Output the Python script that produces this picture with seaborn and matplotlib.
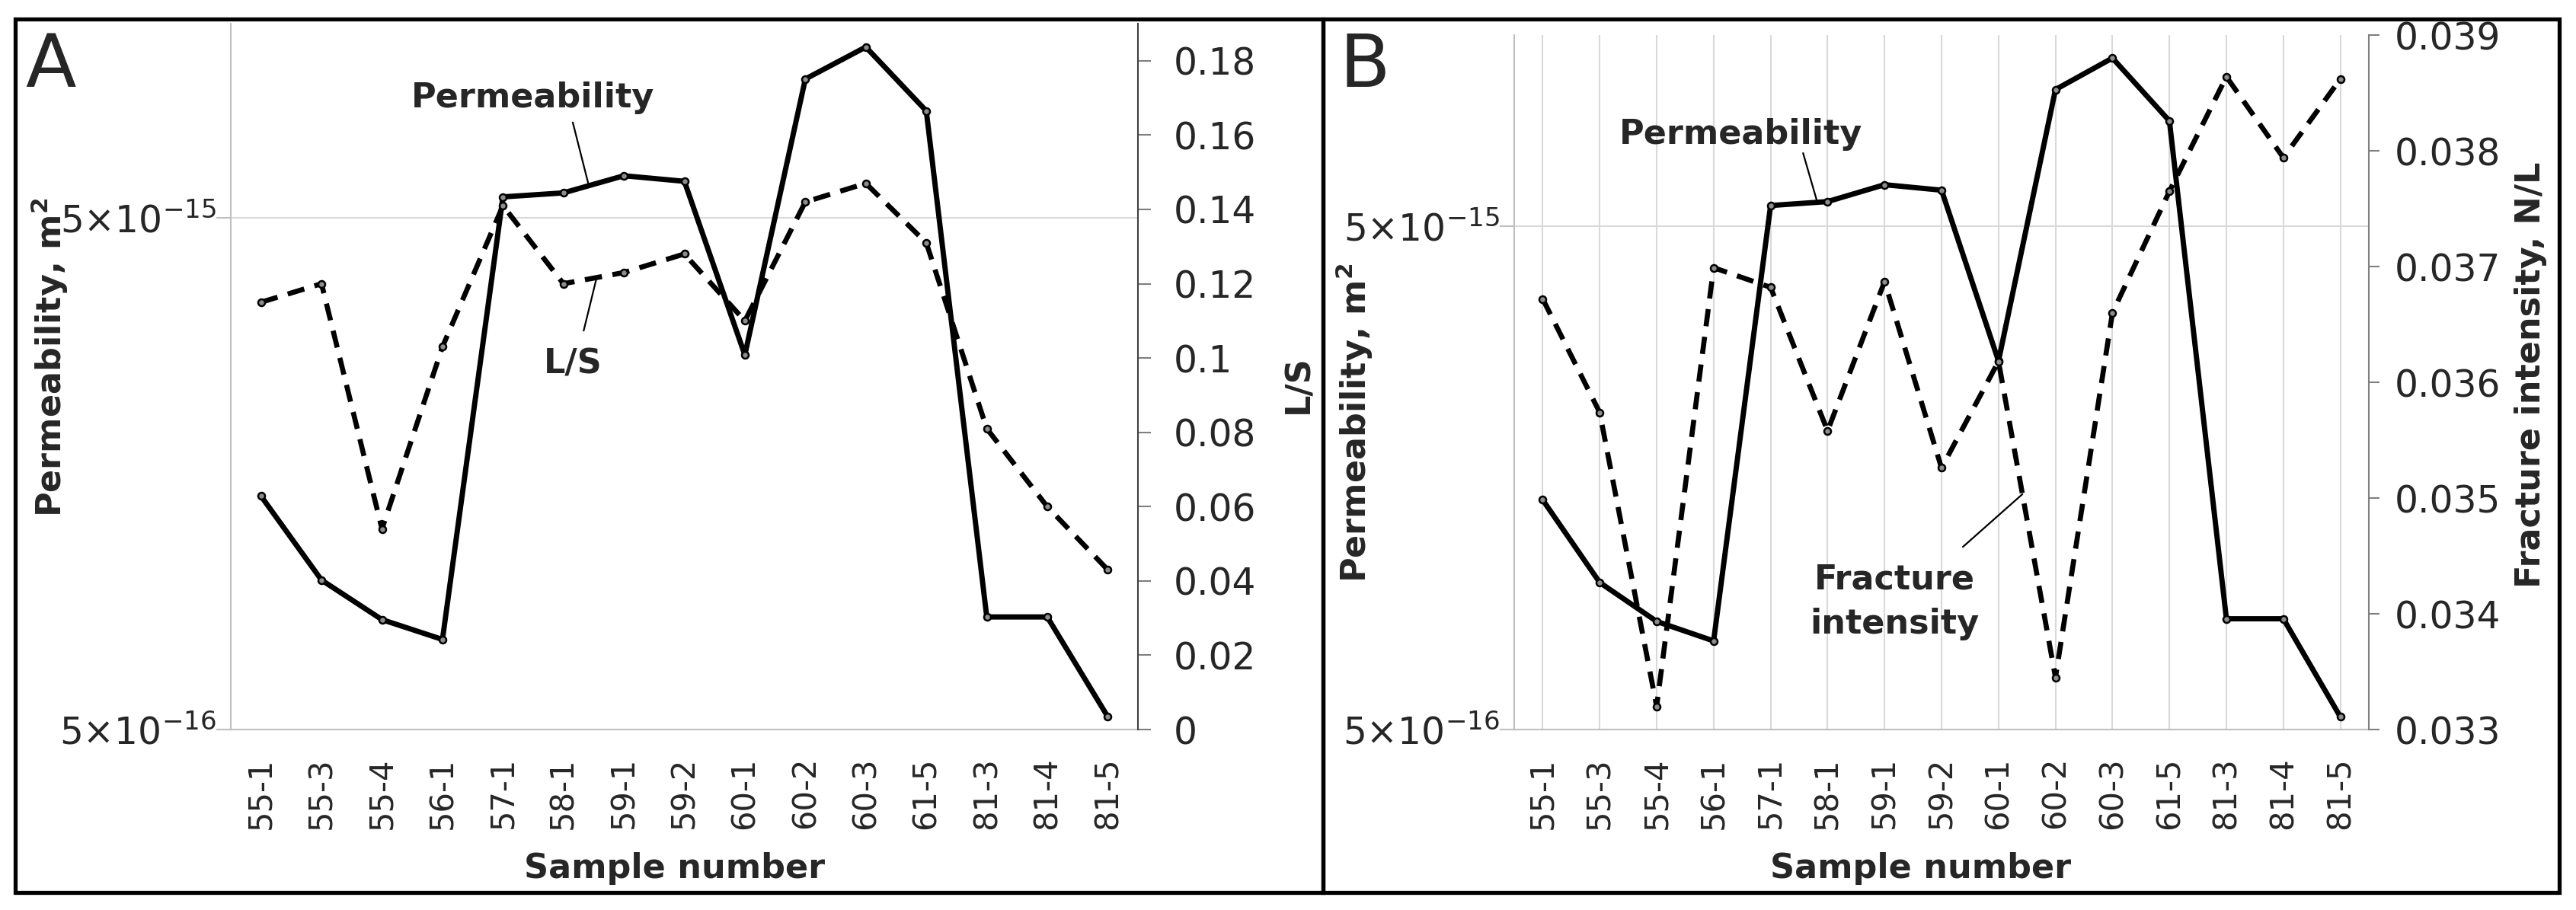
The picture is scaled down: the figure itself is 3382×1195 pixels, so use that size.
import numpy as np
import pandas as pd
import matplotlib
matplotlib.use("Agg")
import matplotlib.pyplot as plt
import seaborn as sns
from matplotlib.patches import Rectangle
from matplotlib.ticker import NullLocator, FuncFormatter

# data
samples = ['55-1', '55-3', '55-4', '56-1', '57-1', '58-1', '59-1', '59-2',
           '60-1', '60-2', '60-3', '61-5', '81-3', '81-4', '81-5']
permeability = [1.43e-15, 9.8e-16, 8.2e-16, 7.5e-16, 5.5e-15, 5.6e-15, 6.05e-15, 5.9e-15,
                2.7e-15, 9.35e-15, 1.08e-14, 8.1e-15, 8.3e-16, 8.3e-16, 5.3e-16]
ls_ratio = [0.115, 0.120, 0.054, 0.103, 0.141, 0.120, 0.123, 0.128,
            0.110, 0.142, 0.147, 0.131, 0.081, 0.060, 0.043]
frac_int = [0.03672, 0.03574, 0.0332, 0.03699, 0.03682, 0.03558, 0.03687, 0.03526,
            0.03618, 0.03345, 0.0366, 0.03765, 0.03864, 0.03794, 0.03862]

perm_ticks = [5e-16, 5e-15]
perm_ticklabels = ['5×10$^{-16}$', '5×10$^{-15}$']
ls_ticks = np.arange(0, 0.181, 0.02)
fi_ticks = [0.033, 0.034, 0.035, 0.036, 0.037, 0.038, 0.039]

df = pd.DataFrame({'pos': np.arange(len(samples)), 'sample': samples,
                   'perm': permeability, 'ls': ls_ratio, 'fi': frac_int})

sns.set_style("white")
plt.rcParams['font.family'] = 'DejaVu Sans'
plt.rcParams['mathtext.fontset'] = 'dejavusans'

W, H = 3382, 1195
fig = plt.figure(figsize=(W / 100, H / 100), dpi=100)


def fx(px):
    return px / W


def fy(py):
    return 1 - py / H


def on_line(vals, x, log=False):
    # point on the polyline at fractional position x (for leader lines)
    i = int(np.floor(x))
    t = x - i
    a, b = vals[i], vals[i + 1]
    if log:
        return 10 ** (np.log10(a) * (1 - t) + np.log10(b) * t)
    return a * (1 - t) + b * t


solid_kw = dict(color='black', lw=5, marker='o', markersize=6.5, mfc='#8c8c8c',
                mec='black', mew=1.8, sort=False, errorbar=None, legend=False)
dash_kw = dict(color='black', lw=4.8, linestyle=(0, (3.4, 2.1)), marker='o', markersize=6.5,
               mfc='#8c8c8c', mec='black', mew=1.8, sort=False, errorbar=None, legend=False)
grid_c = '#D9D9D9'
spine_c = '#BFBFBF'


def setup_base(ax):
    ax.set_yscale('log')
    ax.set_ylim(5e-16, 1.2e-14)
    ax.set_xlim(-0.5, len(samples) - 0.5)
    ax.set_yticks(perm_ticks)
    ax.set_yticklabels(perm_ticklabels)
    ax.yaxis.set_minor_locator(NullLocator())
    ax.set_xticks(df['pos'])
    ax.set_xticklabels(samples, rotation=90, fontsize=30)
    ax.tick_params(axis='x', length=0, pad=26)
    ax.tick_params(axis='y', labelsize=35, length=14, width=1.5, color=spine_c, pad=0,
                   direction='out')
    ax.axhline(5e-15, color=grid_c, lw=1.5, zorder=0)
    for s in ['top', 'right']:
        ax.spines[s].set_visible(False)
    for s in ['left', 'bottom']:
        ax.spines[s].set_color(spine_c)
        ax.spines[s].set_linewidth(1.5)


def style_twin(ax2, spine_color):
    ax2.set_ylabel('')
    for s in ['top', 'left', 'bottom']:
        ax2.spines[s].set_visible(False)
    ax2.spines['right'].set_color(spine_color)
    ax2.spines['right'].set_linewidth(1.5)


def leader(ax, x, y, start):
    ax.annotate('', xy=(x, y), xytext=start, textcoords='axes fraction',
                arrowprops=dict(arrowstyle='-', lw=1.6, color='black', shrinkA=0, shrinkB=0))


# ---------- panel A ----------
axA = fig.add_axes([fx(303), fy(958), fx(1494) - fx(303), fy(31) - fy(958)])
setup_base(axA)
sns.lineplot(data=df, x='pos', y='perm', ax=axA, **solid_kw)
axA.set_xlabel('')
axA.set_ylabel('')

axA2 = axA.twinx()
sns.lineplot(data=df, x='pos', y='ls', ax=axA2, **dash_kw)
axA2.set_ylim(0, 0.19)
axA2.set_yticks(ls_ticks)
axA2.yaxis.set_major_formatter(FuncFormatter(lambda v, p: '%g' % round(v, 3)))
axA2.tick_params(axis='y', labelsize=35, length=12, width=1.5, color='#7F7F7F', pad=22)
style_twin(axA2, '#404040')

axA.text(0.333, 0.895, 'Permeability', transform=axA.transAxes, ha='center', va='center',
         fontsize=32, fontweight='bold')
xa = 5.42
leader(axA, xa, on_line(permeability, xa, log=True), (0.377, 0.860))
axA2.text(0.377, 0.518, 'L/S', transform=axA2.transAxes, ha='center', va='center',
          fontsize=32, fontweight='bold')
xl = 5.55
leader(axA2, xl, on_line(ls_ratio, xl), (0.389, 0.565))

# ---------- panel B ----------
axB = fig.add_axes([fx(1988), fy(958), fx(3110) - fx(1988), fy(46) - fy(958)])
setup_base(axB)
for p in df['pos']:
    axB.axvline(p, color=grid_c, lw=1.5, zorder=0)
sns.lineplot(data=df, x='pos', y='perm', ax=axB, **solid_kw)
axB.set_xlabel('')
axB.set_ylabel('')

axB2 = axB.twinx()
sns.lineplot(data=df, x='pos', y='fi', ax=axB2, **dash_kw)
axB2.set_ylim(0.033, 0.039)
axB2.set_yticks(fi_ticks)
axB2.yaxis.set_major_formatter(FuncFormatter(lambda v, p: '%.3f' % v))
axB2.tick_params(axis='y', labelsize=35, length=10, width=1.5, color='#7F7F7F', pad=14)
style_twin(axB2, '#7F7F7F')

axB.text(0.265, 0.857, 'Permeability', transform=axB.transAxes, ha='center', va='center',
         fontsize=32, fontweight='bold')
xb = 4.82
leader(axB, xb, on_line(permeability, xb, log=True), (0.338, 0.830))
axB2.text(0.445, 0.184, 'Fracture\nintensity', transform=axB2.transAxes, ha='center',
          va='center', fontsize=32, fontweight='bold', linespacing=1.45)
xf = 8.42
leader(axB2, xf, on_line(frac_int, xf), (0.525, 0.263))

# ---------- axis titles, panel letters, frames ----------
lab = dict(fontsize=32, fontweight='bold', ha='center', va='center')
fig.text(fx(65), fy(469), 'Permeability, m$^{\\mathbf{2}}$', rotation=90, **lab)
fig.text(fx(1705), fy(505), 'L/S', rotation=90, **lab)
fig.text(fx(1778), fy(555), 'Permeability, m$^{\\mathbf{2}}$', rotation=90, **lab)
fig.text(fx(3323), fy(492), 'Fracture intensity, N/L', rotation=90, **lab)
fig.text(fx(886), fy(1140), 'Sample number', **lab)
fig.text(fx(2522), fy(1140), 'Sample number', **lab)

fig.text(fx(33), fy(114), 'A', fontsize=70, ha='left', va='baseline')
fig.text(fx(1758), fy(114), 'B', fontsize=70, ha='left', va='baseline')

fig.add_artist(Rectangle((fx(20), fy(1172)), fx(1737) - fx(20), fy(25) - fy(1172),
                         transform=fig.transFigure, fill=False, lw=3.8, ec='black'))
fig.add_artist(Rectangle((fx(1737), fy(1172)), fx(3360) - fx(1737), fy(25) - fy(1172),
                         transform=fig.transFigure, fill=False, lw=3.8, ec='black'))

fig.savefig('out.png', dpi=100, facecolor='white')
